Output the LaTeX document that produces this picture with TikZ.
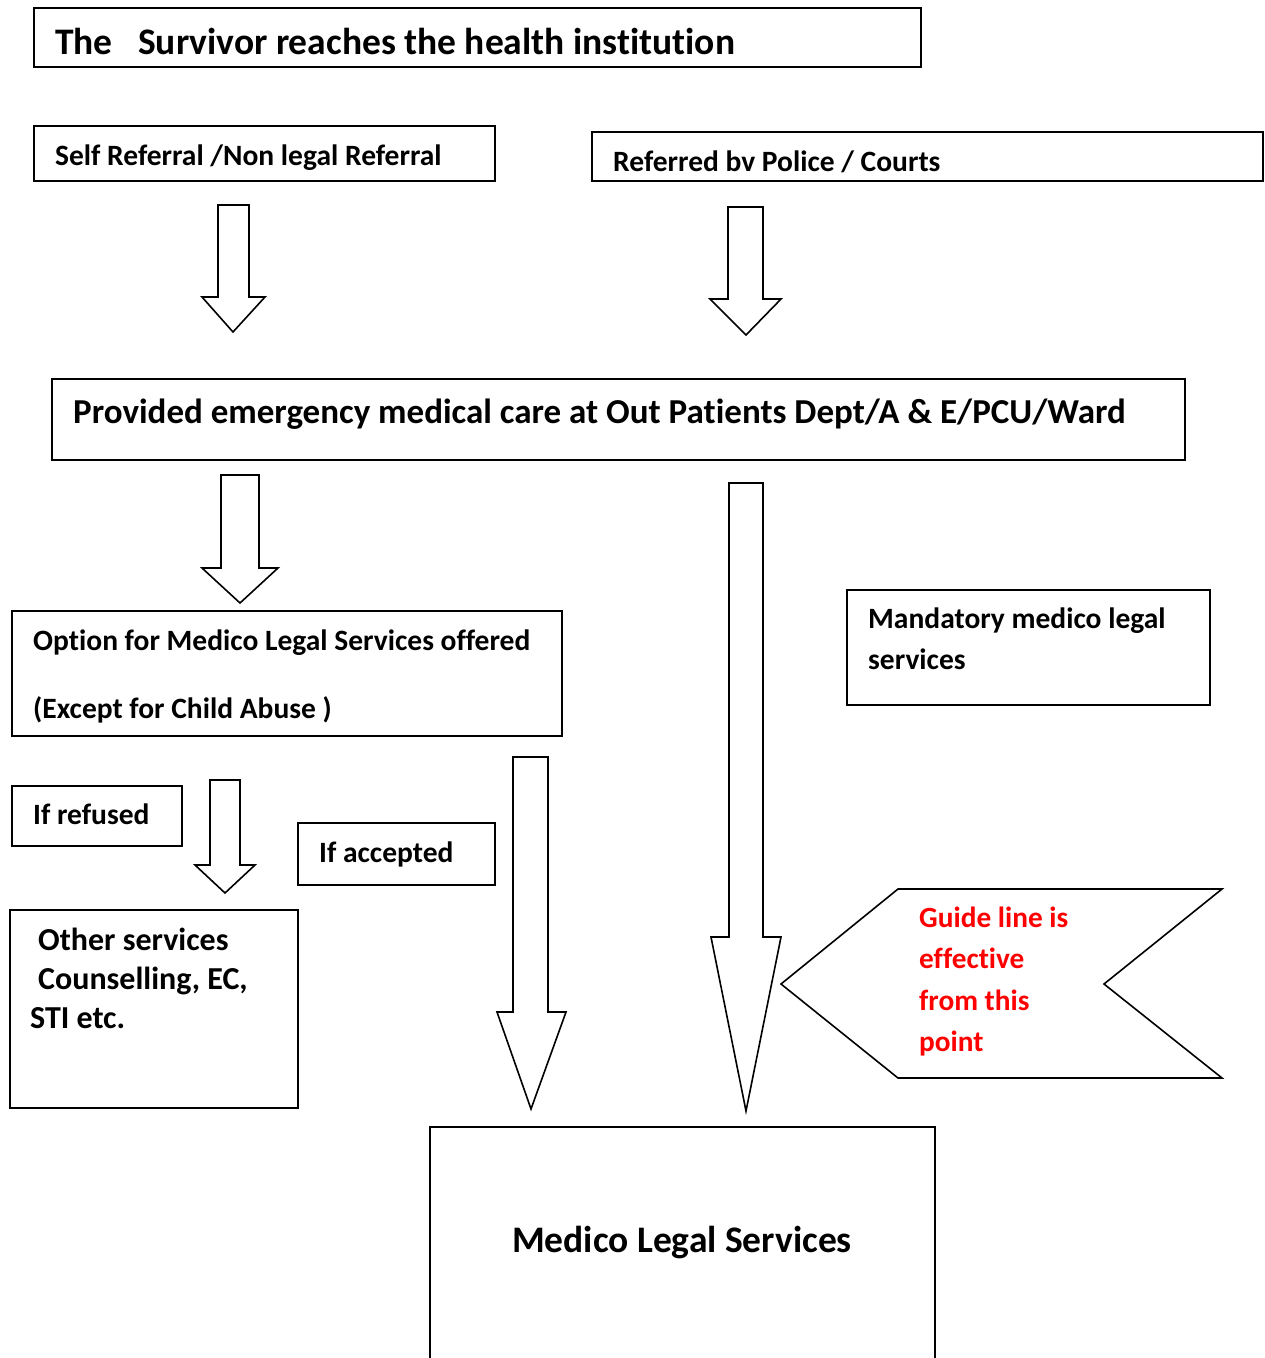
\documentclass[tikz,border=0pt]{standalone}
\usepackage{fontspec}
\setmainfont{Carlito}[Ligatures={NoCommon}]
\tikzset{
  box/.style={draw=black, line width=1.6bp},
  blk/.style={draw=black, line width=1.6bp, fill=white, line join=miter},
  txt/.style={anchor=base west, inner sep=0pt, font=\bfseries\fontsize{#1bp}{#1bp}\selectfont},
}
\definecolor{guidered}{RGB}{255,0,0}
\newcommand{\barrow}[8]{\draw[blk] (#1,#3) -- (#2,#3) -- (#2,#4) -- (#6,#4) -- (#7,#8) -- (#5,#4) -- (#1,#4) -- cycle;}
\begin{document}
\begin{tikzpicture}[x=1bp,y=-1bp]
\useasboundingbox (0,0) rectangle (1264,1358);
% boxes
\draw[box] (34,8) rectangle (921,67);
\node[txt=37.5] (title) at (55,55) {The\ \ \ Survivor reaches the health institution};

\draw[box] (34,126) rectangle (495,181);
\node[txt=29.5] (self) at (55,166) {Self Referral /Non legal Referral};

\draw[box] (592,132) rectangle (1263,181);
\node[txt=29.5] (police) at (613,172) {Referred bv Police / Courts};

\barrow{218}{249}{205}{297}{202}{265}{233}{332}
\barrow{728}{763}{207}{299}{710}{781}{746}{335}

\draw[box] (52,379) rectangle (1185,460);
\node[txt=35] (care) at (73,423) {Provided emergency medical care at Out Patients Dept/A \& E/PCU/Ward};

\barrow{221}{259}{475}{568}{202}{278}{240}{603}
\barrow{729}{763}{483}{937}{711}{781}{746}{1111}

\draw[box] (12,611) rectangle (562,736);
\node[txt=29.5] (option) at (33,650) {Option for Medico Legal Services offered};
\node[txt=29.5] (except) at (33,718) {(Except for Child Abuse )};

\draw[box] (847,590) rectangle (1210,705);
\node[txt=29.5] (mand1) at (868,628) {Mandatory medico legal};
\node[txt=29.5] (mand2) at (868,669) {services};

\draw[box] (12,786) rectangle (182,846);
\node[txt=29.5] (refused) at (33,824) {If refused};

\barrow{210}{240}{780}{865}{195}{255}{225}{893}

\draw[box] (298,823) rectangle (495,885);
\node[txt=29.5] (accepted) at (319,862) {If accepted};

\barrow{513}{548}{757}{1012}{497}{566}{531}{1109}

\draw[box] (10,910) rectangle (298,1108);
\node[txt=32] (other1) at (38,950) {Other services};
\node[txt=32] (other2) at (38,989) {Counselling, EC,};
\node[txt=32] (other3) at (30,1028) {STI etc.};

\draw[blk] (898,889) -- (1222,889) -- (1104,984) -- (1222,1078) -- (898,1078) -- (781,984) -- cycle;
\node[txt=29.3, text=guidered] (g1) at (919,927) {Guide line is};
\node[txt=29.3, text=guidered] (g2) at (919,968) {effective};
\node[txt=29.3, text=guidered] (g3) at (919,1010) {from this};
\node[txt=29.3, text=guidered] (g4) at (919,1051) {point};

\draw[box] (430,1360) -- (430,1127) -- (935,1127) -- (935,1360);
\node[anchor=base, inner sep=0pt, font=\bfseries\fontsize{37.5bp}{37.5bp}\selectfont] (mls) at (682,1252) {Medico Legal Services};
\end{tikzpicture}
\end{document}
